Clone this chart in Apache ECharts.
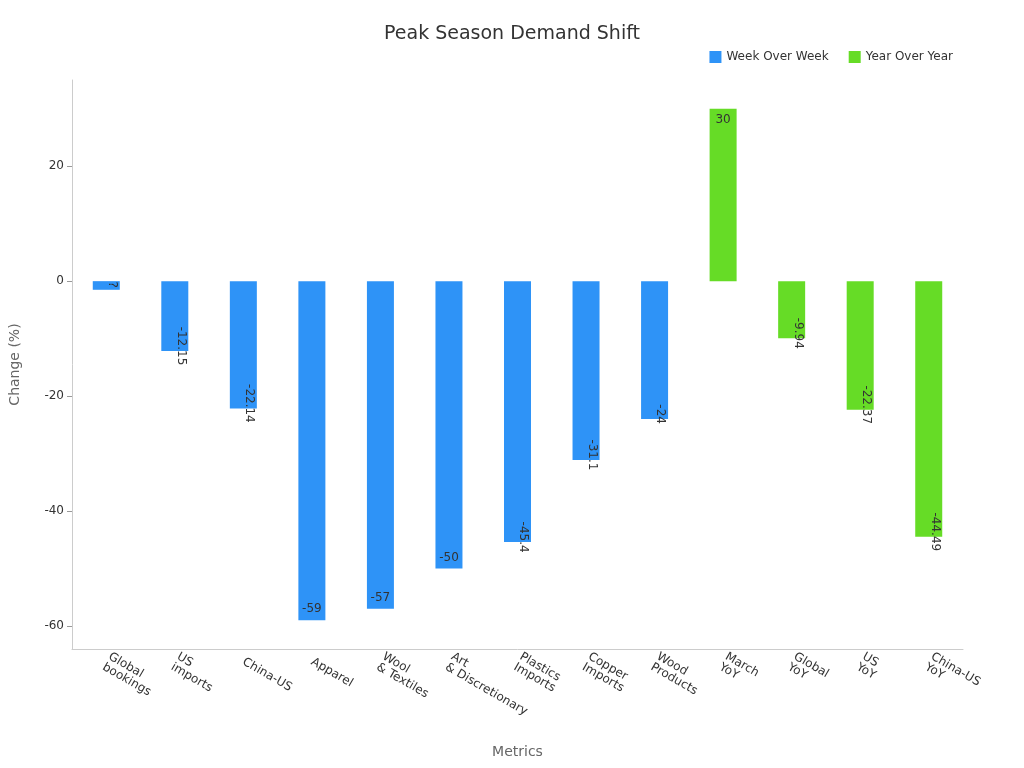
<!DOCTYPE html><html><head><meta charset="utf-8"><script src="https://cdn.jsdelivr.net/npm/echarts@6/dist/echarts.min.js"></script></head><body style="margin:0"><div id="c" style="width:1024px;height:768px"></div><script>
const categories=['Global\nbookings','US\nimports','China-US','Apparel','Wool\n& Textiles','Art\n& Discretionary','Plastics\nImports','Copper\nImports','Wood\nProducts','March\nYoY','Global\nYoY','US\nYoY','China-US\nYoY'];
const wowValues=[-1.5,-12.15,-22.14,-59,-57,-50,-45.4,-31.1,-24.0,null,null,null,null];
const yoyValues=[null,null,null,null,null,null,null,null,null,30,-9.94,-22.37,-44.49];
const horiz=v=>v===30||v<=-50;
function mk(arr){return arr.map(v=>v==null?'-':{value:v,label:{rotate:horiz(v)?0:-90,position:v>0?'insideTop':'insideBottom',formatter:v===-1.5?'?':undefined}});}
const ch=echarts.init(document.getElementById('c'));
ch.setOption({
title:{text:'Peak Season Demand Shift',left:'center',top:20,textStyle:{fontFamily:'DejaVu Sans',fontWeight:'normal',fontSize:19,color:'#333'}},
legend:{right:66,top:46,itemWidth:12,itemHeight:12,icon:'rect',itemGap:20,textStyle:{fontFamily:'DejaVu Sans',fontSize:12,color:'#333'}},
grid:{left:70,right:61,top:80,bottom:119},
xAxis:{type:'category',data:categories,name:'Metrics',nameLocation:'middle',nameGap:96,nameTextStyle:{fontFamily:'DejaVu Sans',fontSize:14,color:'#666'},axisLine:{onZero:false,lineStyle:{color:'#ccc'}},axisTick:{alignWithLabel:true,lineStyle:{color:'#999'}},axisLabel:{rotate:-30,interval:0,fontFamily:'DejaVu Sans',fontSize:12,color:'#333',align:'left',margin:12}},
yAxis:{type:'value',min:-64,max:35,name:'Change (%)',nameLocation:'middle',nameGap:50,nameTextStyle:{fontFamily:'DejaVu Sans',fontSize:14,color:'#666'},splitLine:{show:false},axisLine:{show:true,lineStyle:{color:'#ccc'}},axisTick:{show:true,lineStyle:{color:'#999'}},axisLabel:{showMinLabel:false,showMaxLabel:false,fontFamily:'DejaVu Sans',fontSize:12,color:'#333'}},
series:[
{name:'Week Over Week',type:'bar',stack:'s',barWidth:27,data:mk(wowValues),itemStyle:{color:'#2e93f7'},label:{show:true,color:'#333',fontFamily:'DejaVu Sans',fontSize:12}},
{name:'Year Over Year',type:'bar',stack:'s',barWidth:27,data:mk(yoyValues),itemStyle:{color:'#66dc26'},label:{show:true,color:'#333',fontFamily:'DejaVu Sans',fontSize:12}}
]});
</script></body></html>
